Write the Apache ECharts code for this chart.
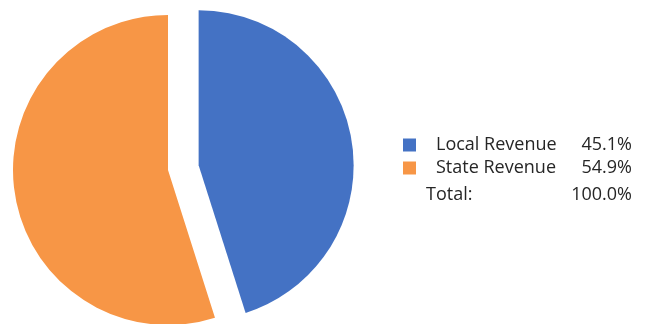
<!doctype html>
<html>
<head>
<meta charset="UTF-8">
<title>Revenue</title>
<script src="https://cdn.jsdelivr.net/npm/echarts@6/dist/echarts.min.js"></script>
<style>
  html, body { margin: 0; padding: 0; background: #fff; }
  #main { width: 646px; height: 324px; }
</style>
</head>
<body>
<div id="main"></div>
<script>
// data
var categories = ['Local Revenue', 'State Revenue'];
var shares = [45.1, 54.9];
var colors = ['#4472C4', '#F79646'];

var total = shares.reduce(function (a, b) { return a + b; }, 0);
var font = '"Open Sans", sans-serif';

var chart = echarts.init(document.getElementById('main'));

var pieData = categories.map(function (name, i) {
  return {
    name: name,
    value: shares[i],
    selected: i === 0,
    itemStyle: { color: colors[i] }
  };
});

var option = {
  animation: false,
  legend: {
    orient: 'vertical',
    left: 403,
    top: 136,
    padding: 0,
    itemWidth: 13,
    itemHeight: 13,
    itemGap: 5,
    icon: 'rect',
    selectedMode: false,
    data: categories,
    formatter: function (name) {
      var i = categories.indexOf(name);
      return '{n|' + name + '}{p|' + shares[i].toFixed(1) + '%}';
    },
    textStyle: {
      rich: {
        n: { width: 125, padding: [0, 0, 0, 15], fontSize: 18, color: '#262626', fontFamily: font },
        p: { width: 71, align: 'right', fontSize: 18, color: '#262626', fontFamily: font }
      }
    }
  },
  graphic: [
    {
      type: 'text', left: 426, top: 186,
      style: { text: 'Total:', fontSize: 18, fill: '#262626', fontFamily: font }
    },
    {
      type: 'text', right: 14, top: 186,
      style: { text: total.toFixed(1) + '%', fontSize: 18, fill: '#262626', fontFamily: font, textAlign: 'right' }
    }
  ],
  series: [{
    type: 'pie',
    center: [168, 170],
    radius: 155,
    startAngle: 90,
    clockwise: true,
    selectedMode: 'single',
    selectedOffset: 31,
    label: { show: false },
    labelLine: { show: false },
    emphasis: { disabled: true },
    data: pieData
  }]
};

chart.setOption(option);
</script>
</body>
</html>
